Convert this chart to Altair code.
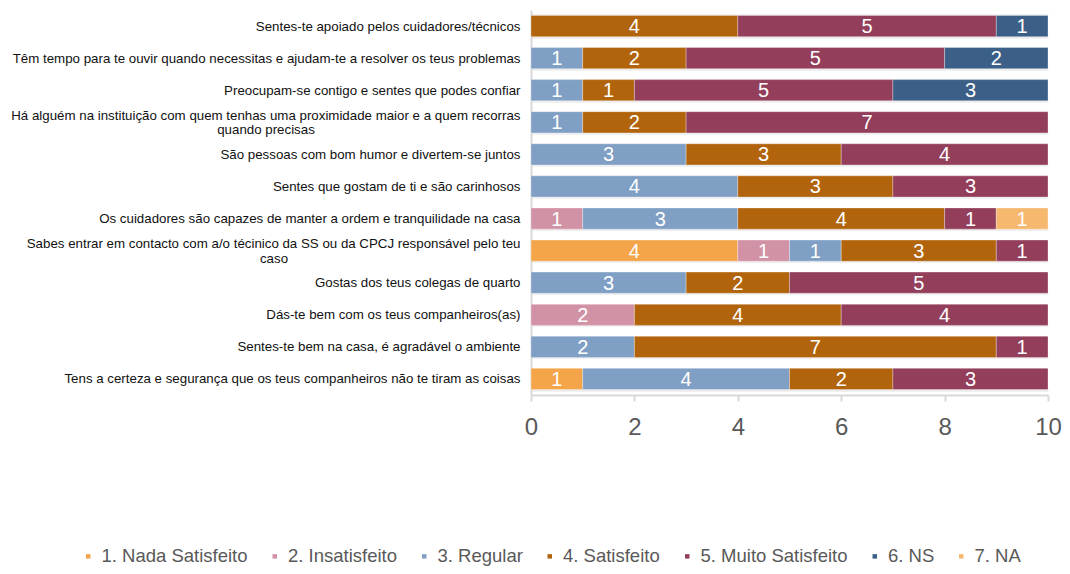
import altair as alt
import pandas as pd

# category labels (two-line labels use "|" as line break)
categories = [
    "Sentes-te apoiado pelos cuidadores/técnicos",
    "Têm tempo para te ouvir quando necessitas e ajudam-te a resolver os teus problemas",
    "Preocupam-se contigo e sentes que podes confiar",
    "Há alguém na instituição com quem tenhas uma proximidade maior e a quem recorras|quando precisas",
    "São pessoas com bom humor e divertem-se juntos",
    "Sentes que gostam de ti e são carinhosos",
    "Os cuidadores são capazes de manter a ordem e tranquilidade na casa",
    "Sabes entrar em contacto com a/o técinico da SS ou da CPCJ responsável pelo teu|caso",
    "Gostas dos teus colegas de quarto",
    "Dás-te bem com os teus companheiros(as)",
    "Sentes-te bem na casa, é agradável o ambiente",
    "Tens a certeza e segurança que os teus companheiros não te tiram as coisas",
]

series = ["1. Nada Satisfeito", "2. Insatisfeito", "3. Regular", "4. Satisfeito",
          "5. Muito Satisfeito", "6. NS", "7. NA"]

nada    = [0, 0, 0, 0, 0, 0, 0, 4, 0, 0, 0, 1]
insat   = [0, 0, 0, 0, 0, 0, 1, 1, 0, 2, 0, 0]
regular = [0, 1, 1, 1, 3, 4, 3, 1, 3, 0, 2, 4]
satisf  = [4, 2, 1, 2, 3, 3, 4, 3, 2, 4, 7, 2]
muito   = [5, 5, 5, 7, 4, 3, 1, 1, 5, 4, 1, 3]
ns      = [1, 2, 3, 0, 0, 0, 0, 0, 0, 0, 0, 0]
na      = [0, 0, 0, 0, 0, 0, 1, 0, 0, 0, 0, 0]
values = [nada, insat, regular, satisf, muito, ns, na]

colors = ["#F4A54A", "#D292A5", "#7F9FC4", "#B2640C", "#933E5A", "#3C5F87", "#F6B86E"]
label_sizes = [20, 20, 16, 20, 16, 20, 16]

rows = []
for i, lab in enumerate(categories):
    for j, s in enumerate(series):
        v = values[j][i]
        if v > 0:
            rows.append({"cat": lab, "series": s, "k": j, "value": v})
df = pd.DataFrame(rows)

# second lines of the wrapped labels
wrapped = [c for c in categories if "|" in c]
wrap_df = pd.DataFrame({"cat": wrapped, "line2": [c.split("|")[1] for c in wrapped]})
# horizontal centre of each first line, in pixels left of the plot
line2_centre = {wrapped[0]: -265, wrapped[1]: -257}

FONT = "Liberation Sans"
WRAPPED = "indexof(datum.label, '|') >= 0"
LABEL_SIZE = 13.3

base = alt.Chart(df).transform_stack(
    stack="value", groupby=["cat"], as_=["x0", "x1"],
    sort=[alt.SortField("k", order="ascending")]
).transform_calculate(mid="(datum.x0 + datum.x1) / 2")

y_scale = alt.Scale(paddingInner=0.34, paddingOuter=0.17)

y_enc = alt.Y(
    "cat:N", sort=categories, title=None, scale=y_scale,
    axis=alt.Axis(
        labelExpr="split(datum.label, '|')[0]", labelLimit=700, labelFontSize=LABEL_SIZE,
        labelColor="#111111", labelFont=FONT, labelPadding=11,
        labelOffset={"condition": {"test": WRAPPED, "value": -7}, "value": 0},
        ticks=False, domain=True, domainColor="#d9d9d9", domainWidth=2,
        grid=True, gridColor="#ececec", gridWidth=2.5, tickBand="extent",
    ),
)

x_scale = alt.Scale(domain=[0, 10], nice=False)

bars = base.mark_bar(stroke="#ffffff", strokeWidth=0.6, strokeOpacity=0.5).encode(
    x=alt.X("x0:Q", scale=x_scale, title=None,
            axis=alt.Axis(values=[0, 2, 4, 6, 8, 10], grid=False, labelFontSize=24,
                          labelColor="#595959", labelFont=FONT, labelPadding=14,
                          labelFlush=False,
                          domainColor="#d9d9d9", domainWidth=2, tickColor="#d9d9d9",
                          tickWidth=2, tickSize=6, format="d")),
    x2="x1:Q",
    y=y_enc,
    color=alt.Color("series:N", scale=alt.Scale(domain=series, range=colors),
                    legend=alt.Legend(title=None, orient="none", legendX=-452, legendY=537,
                                      direction="horizontal", symbolType="square",
                                      symbolSize=64, symbolStrokeWidth=0,
                                      labelFontSize=18.5, labelColor="#595959",
                                      labelFont=FONT, labelOffset=4, columnPadding=17.5,
                                      padding=0, labelLimit=400)),
)

texts = base.mark_text(color="white", font=FONT, baseline="middle", dy=1).encode(
    x=alt.X("mid:Q", scale=x_scale),
    y=y_enc,
    text=alt.Text("value:Q", format="d"),
    size=alt.Size("series:N", scale=alt.Scale(domain=series, range=label_sizes), legend=None),
)

line2_layers = [
    alt.Chart(wrap_df).transform_filter(alt.datum.cat == c).mark_text(
        font=FONT, fontSize=LABEL_SIZE, color="#111111", align="center",
        baseline="middle", dy=8,
    ).encode(
        x=alt.value(px),
        y=y_enc,
        text="line2:N",
    )
    for c, px in line2_centre.items()
]

chart = alt.layer(bars, texts, *line2_layers).properties(
    width=517, height=385,
    padding={"left": 523, "top": 2, "right": 14, "bottom": 173},
    autosize=alt.AutoSizeParams(type="none"),
).configure_view(stroke=None)

chart.save("out.html", embed_options={"renderer": "svg", "actions": False})
